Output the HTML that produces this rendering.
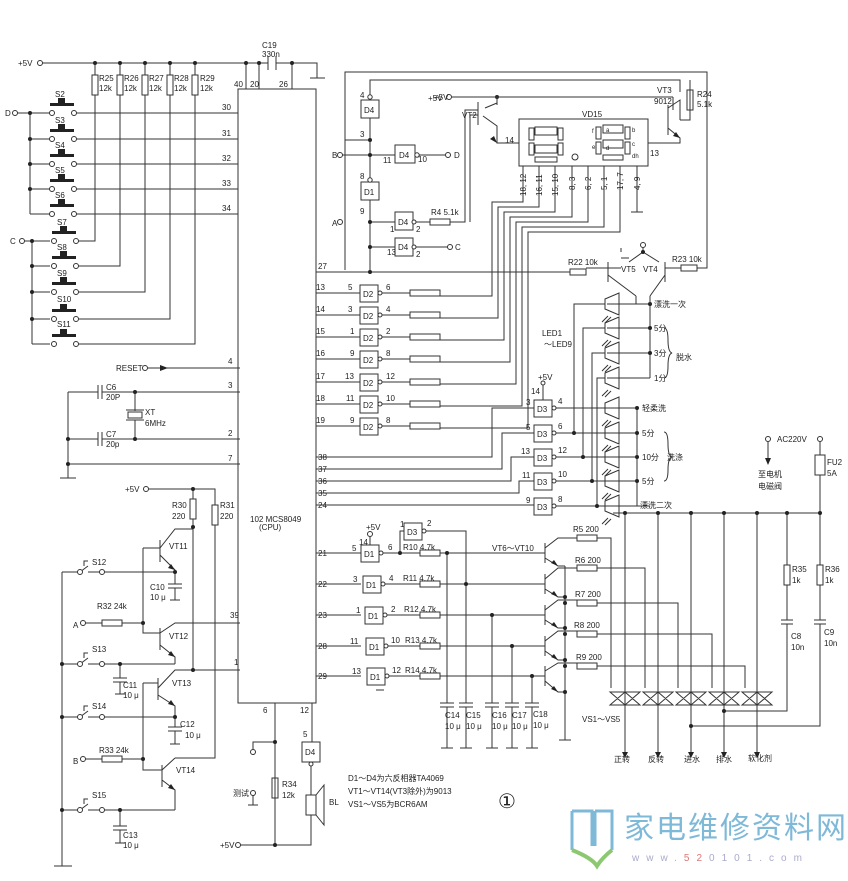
<!DOCTYPE html>
<html><head><meta charset="utf-8"><style>
html,body{margin:0;padding:0;background:#fff;}
svg{display:block;}
text{font-family:"Liberation Sans","Noto Sans CJK SC",sans-serif;font-size:8px;fill:#222;}
.c{font-size:9px;}
</style></head><body>
<svg width="848" height="881" viewBox="0 0 848 881" xmlns="http://www.w3.org/2000/svg">
<rect width="848" height="881" fill="#fff"/>
<g stroke="#333" stroke-width="1" fill="none">
<!-- CPU -->
<rect x="238" y="89" width="78" height="614" fill="#fff"/>
<!-- top rail -->
<path d="M38 63H268M276 63H317V78M310 78H325M268 56V70M276 56V70M246 63V89M259 63V89M292 63V89"/>
<!-- R25-29 -->
<path d="M95 63V75M120 63V75M145 63V75M170 63V75M195 63V75"/>
<rect x="92" y="75" width="6" height="20"/><rect x="117" y="75" width="6" height="20"/><rect x="142" y="75" width="6" height="20"/><rect x="167" y="75" width="6" height="20"/><rect x="192" y="75" width="6" height="20"/>
<path d="M95 95V241H76M120 95V266H76M145 95V292H76M170 95V319H76M195 95V344H76"/>
<!-- switch rows D -->
<path d="M14 113H50M30 113V214M30 139H50M30 164H50M30 189H50M30 214H50"/>
<path d="M76 113H238M76 139H238M76 164H238M76 189H238M76 214H238"/>
<path d="M23 241H50M32 241V344M32 266H50M32 292H50M32 319H50M32 344H50"/>
</g>
<g fill="#222">
<rect x="50" y="103" width="24" height="3"/><rect x="58" y="98" width="7" height="6"/>
<rect x="50" y="129" width="24" height="3"/><rect x="58" y="124" width="7" height="6"/>
<rect x="50" y="154" width="24" height="3"/><rect x="58" y="149" width="7" height="6"/>
<rect x="50" y="179" width="24" height="3"/><rect x="58" y="174" width="7" height="6"/>
<rect x="50" y="204" width="24" height="3"/><rect x="58" y="199" width="7" height="6"/>
<rect x="52" y="231" width="24" height="3"/><rect x="60" y="226" width="7" height="6"/>
<rect x="52" y="256" width="24" height="3"/><rect x="60" y="251" width="7" height="6"/>
<rect x="52" y="282" width="24" height="3"/><rect x="60" y="277" width="7" height="6"/>
<rect x="52" y="309" width="24" height="3"/><rect x="60" y="304" width="7" height="6"/>
<rect x="52" y="334" width="24" height="3"/><rect x="60" y="329" width="7" height="6"/>
<circle cx="95" cy="63" r="2"/><circle cx="120" cy="63" r="2"/><circle cx="145" cy="63" r="2"/><circle cx="170" cy="63" r="2"/><circle cx="195" cy="63" r="2"/><circle cx="246" cy="63" r="2"/><circle cx="259" cy="63" r="2"/><circle cx="292" cy="63" r="2"/>
<circle cx="30" cy="113" r="2"/><circle cx="30" cy="139" r="2"/><circle cx="30" cy="164" r="2"/><circle cx="30" cy="189" r="2"/>
<circle cx="32" cy="241" r="2"/><circle cx="32" cy="266" r="2"/><circle cx="32" cy="292" r="2"/><circle cx="32" cy="319" r="2"/>
</g>
<g fill="#fff" stroke="#333">
<circle cx="40" cy="63" r="2.5"/><circle cx="15" cy="113" r="2.5"/><circle cx="22" cy="241" r="2.5"/>
<circle cx="52" cy="113" r="2.5"/><circle cx="74" cy="113" r="2.5"/><circle cx="52" cy="139" r="2.5"/><circle cx="74" cy="139" r="2.5"/><circle cx="52" cy="164" r="2.5"/><circle cx="74" cy="164" r="2.5"/><circle cx="52" cy="189" r="2.5"/><circle cx="74" cy="189" r="2.5"/><circle cx="52" cy="214" r="2.5"/><circle cx="74" cy="214" r="2.5"/>
<circle cx="54" cy="241" r="2.5"/><circle cx="76" cy="241" r="2.5"/><circle cx="54" cy="266" r="2.5"/><circle cx="76" cy="266" r="2.5"/><circle cx="54" cy="292" r="2.5"/><circle cx="76" cy="292" r="2.5"/><circle cx="54" cy="319" r="2.5"/><circle cx="76" cy="319" r="2.5"/><circle cx="54" cy="344" r="2.5"/><circle cx="76" cy="344" r="2.5"/>
<circle cx="145" cy="368" r="2.5"/>
</g>
<text x="18" y="66">+5V</text><text x="262" y="48">C19</text><text x="262" y="57">330n</text>
<text x="99" y="81">R25</text><text x="99" y="91">12k</text><text x="124" y="81">R26</text><text x="124" y="91">12k</text><text x="149" y="81">R27</text><text x="149" y="91">12k</text><text x="174" y="81">R28</text><text x="174" y="91">12k</text><text x="200" y="81">R29</text><text x="200" y="91">12k</text>
<text x="234" y="87">40</text><text x="250" y="87">20</text><text x="279" y="87">26</text>
<text x="5" y="116">D</text><text x="10" y="244">C</text>
<text x="55" y="97">S2</text><text x="55" y="123">S3</text><text x="55" y="148">S4</text><text x="55" y="173">S5</text><text x="55" y="198">S6</text><text x="57" y="225">S7</text><text x="57" y="250">S8</text><text x="57" y="276">S9</text><text x="57" y="302">S10</text><text x="57" y="327">S11</text>
<text x="222" y="110">30</text><text x="222" y="136">31</text><text x="222" y="161">32</text><text x="222" y="186">33</text><text x="222" y="211">34</text>
<!-- reset, xtal -->
<g stroke="#333" fill="none">
<path d="M148 368H240M68 392H98M102 392H240M68 392V478M68 439H98M102 439H240M68 464H240M60 478H76M98 385V399M102 385V399M98 432V446M102 432V446M135 392V411M135 420V439"/>
<rect x="128" y="412" width="14" height="6"/><path d="M126 410H144M126 420H144"/>
</g>
<path d="M160 365L168 368L160 371Z" fill="#222"/>
<g fill="#222"><circle cx="135" cy="392" r="2"/><circle cx="135" cy="439" r="2"/><circle cx="68" cy="439" r="2"/><circle cx="68" cy="464" r="2"/></g>
<text x="116" y="371">RESET</text><text x="228" y="364">4</text><text x="228" y="388">3</text><text x="228" y="436">2</text><text x="228" y="461">7</text>
<text x="106" y="390">C6</text><text x="106" y="400">20P</text><text x="106" y="437">C7</text><text x="106" y="447">20p</text><text x="145" y="415">XT</text><text x="145" y="426">6MHz</text>
<text x="250" y="522">102 MCS8049</text><text x="259" y="530">(CPU)</text>
<!-- left bottom transistor area -->
<g stroke="#333" fill="none">
<path d="M148 489H215V505M193 489V499M193 519V527M215 525V758H175"/>
<rect x="190" y="499" width="6" height="20"/><rect x="212" y="505" width="6" height="20"/>
<path d="M160 540V562M160 548L175 529H193V670M160 555L175 570V572M143 548H160M143 548V633H160M160 628V650M160 633L175 623H240M160 645L175 657V664"/>
<path d="M62 572H78M88 572H175M175 572V584M168 584H182M168 588H182M175 588V600M170 600H180"/>
<path d="M85 623H102M122 623H143"/><rect x="102" y="620" width="20" height="6"/>
<path d="M62 664H78M88 664H175M120 664V678M113 678H127M113 682H127M120 682V694M115 694H125"/>
<path d="M158 678V700M158 688L175 670H240M158 695L175 706V717M143 683H158M143 683V770H162"/>
<path d="M62 717H78M88 717H175M175 717V727M168 727H182M168 731H182M175 731V744M170 744H180"/>
<path d="M85 759H102M122 759H143"/><rect x="102" y="756" width="20" height="6"/>
<path d="M162 765V787M162 770L175 758M162 780L175 790V810M62 810H78M88 810H175M120 810V826M113 826H127M113 830H127M120 830V843M115 843H125"/>
<path d="M62 572V866M54 866H72"/>
<path d="M80 572L88 566M80 664L88 658M80 717L88 711M80 810L88 804M84 566V561H88M84 658V653H88M84 711V706H88M84 804V799H88"/>
</g>
<g fill="#222"><circle cx="193" cy="489" r="2"/><circle cx="193" cy="527" r="2"/><circle cx="175" cy="572" r="2"/><circle cx="143" cy="623" r="2"/><circle cx="120" cy="664" r="2"/><circle cx="193" cy="670" r="2"/><circle cx="175" cy="717" r="2"/><circle cx="143" cy="759" r="2"/><circle cx="120" cy="810" r="2"/><circle cx="62" cy="664" r="2"/><circle cx="62" cy="717" r="2"/><circle cx="62" cy="810" r="2"/>
<path d="M175 570L168 568L171 564Z"/><path d="M175 657L168 655L171 651Z"/><path d="M175 706L168 704L171 700Z"/><path d="M175 790L168 788L171 784Z"/></g>
<g fill="#fff" stroke="#333"><circle cx="146" cy="489" r="2.5"/><circle cx="80" cy="572" r="2.5"/><circle cx="102" cy="572" r="2.5"/><circle cx="83" cy="623" r="2.5"/><circle cx="80" cy="664" r="2.5"/><circle cx="102" cy="664" r="2.5"/><circle cx="80" cy="717" r="2.5"/><circle cx="102" cy="717" r="2.5"/><circle cx="83" cy="759" r="2.5"/><circle cx="80" cy="810" r="2.5"/><circle cx="102" cy="810" r="2.5"/></g>
<text x="125" y="492">+5V</text><text x="172" y="508">R30</text><text x="172" y="519">220</text><text x="220" y="508">R31</text><text x="220" y="519">220</text>
<text x="169" y="549">VT11</text><text x="169" y="639">VT12</text><text x="172" y="686">VT13</text><text x="176" y="773">VT14</text>
<text x="92" y="565">S12</text><text x="92" y="652">S13</text><text x="92" y="709">S14</text><text x="92" y="798">S15</text>
<text x="150" y="590">C10</text><text x="150" y="600">10 μ</text><text x="123" y="688">C11</text><text x="123" y="698">10 μ</text>
<text x="180" y="727">C12</text><text x="185" y="738">10 μ</text><text x="123" y="838">C13</text><text x="123" y="848">10 μ</text>
<text x="97" y="609">R32  24k</text><text x="99" y="753">R33  24k</text><text x="73" y="628">A</text><text x="73" y="764">B</text>
<text x="230" y="618">39</text><text x="234" y="665">1</text>
<!-- bottom CPU -->
<g stroke="#333" fill="none">
<path d="M275 703V845H240M275 742H253V750M253 795V805M248 805H258M275 742V778M275 798V845M312 703V742"/>
<rect x="272" y="778" width="6" height="20"/>
<rect x="302" y="742" width="18" height="20"/>
<path d="M311 765V795M311 815V845H275"/>
<rect x="306" y="795" width="10" height="20"/><path d="M316 795L324 785V825L316 815"/>
</g>
<g fill="#222"><circle cx="275" cy="742" r="2"/><circle cx="275" cy="845" r="2"/></g>
<g fill="#fff" stroke="#333"><circle cx="253" cy="752" r="2.5"/><circle cx="253" cy="793" r="2.5"/><circle cx="238" cy="845" r="2.5"/><circle cx="311" cy="764" r="2"/></g>
<text x="263" y="713">6</text><text x="300" y="713">12</text><text x="303" y="737">5</text><text x="305" y="755">D4</text>
<text x="233" y="796">测试</text><text x="282" y="787">R34</text><text x="282" y="798">12k</text><text x="329" y="805">BL</text><text x="220" y="848">+5V</text>
<text x="348" y="781">D1～D4为六反相器TA4069</text><text x="348" y="794">VT1～VT14(VT3除外)为9013</text><text x="348" y="807">VS1～VS5为BCR6AM</text>
<text x="498" y="808" style="font-size:20px;font-family:'Liberation Serif',serif">①</text>
<!-- top right gates -->
<g stroke="#333" fill="none">
<path d="M345 270V72H707V268H697M370 95V80H680V92M370 118V140H345M370 140V180M370 200V272M338 155H395M410 155H445M370 222H395M412 222H430M450 222H465V110H478M370 247H395M412 247H448M316 272H570M586 268H608"/>
<rect x="361" y="100" width="18" height="18" fill="#fff"/><rect x="395" y="145" width="20" height="18" fill="#fff"/><rect x="361" y="182" width="18" height="18" fill="#fff"/><rect x="395" y="212" width="18" height="18" fill="#fff"/><rect x="395" y="238" width="18" height="18" fill="#fff"/>
<rect x="430" y="219" width="20" height="6"/><rect x="570" y="269" width="16" height="6"/><rect x="681" y="265" width="16" height="6"/>
</g>
<g fill="#222"><circle cx="370" cy="140" r="2"/><circle cx="370" cy="155" r="2"/><circle cx="370" cy="222" r="2"/><circle cx="370" cy="247" r="2"/><circle cx="370" cy="272" r="2"/><circle cx="497" cy="97" r="2"/></g>
<g fill="#fff" stroke="#333"><circle cx="370" cy="97" r="2.2"/><circle cx="370" cy="180" r="2.2"/><circle cx="417" cy="155" r="2.2"/><circle cx="448" cy="155" r="2.5"/><circle cx="414" cy="222" r="2"/><circle cx="414" cy="247" r="2"/><circle cx="450" cy="247" r="2.5"/><circle cx="340" cy="155" r="2.5"/><circle cx="340" cy="222" r="2.5"/><circle cx="449" cy="97" r="2.5"/></g>
<text x="364" y="113">D4</text><text x="399" y="158">D4</text><text x="364" y="195">D1</text><text x="398" y="225">D4</text><text x="398" y="250">D4</text>
<text x="360" y="98">4</text><text x="360" y="137">3</text><text x="383" y="163">11</text><text x="418" y="162">10</text><text x="454" y="158">D</text><text x="360" y="179">8</text><text x="360" y="214">9</text>
<text x="390" y="232">1</text><text x="416" y="232">2</text><text x="387" y="255">13</text><text x="416" y="257">2</text><text x="455" y="250">C</text><text x="431" y="215">R4 5.1k</text>
<text x="332" y="158">B</text><text x="332" y="226">A</text><text x="318" y="269">27</text><text x="428" y="101">+5V</text>
<!-- VT2, VT3, VD15 -->
<g stroke="#333" fill="none">
<path d="M452 97H673M497 97V105M485 108L497 103M478 102V125M478 115H470V222M483 116L497 126V143H519M673 97V110M690 88V110M690 88V80M690 110V120H680M668 108L680 100V120M668 128L680 138V143H648M668 105V135"/>
<rect x="687" y="90" width="6" height="20"/>
<rect x="519" y="119" width="129" height="47" fill="#fff"/>
<rect x="535" y="127" width="22" height="8"/><rect x="535" y="145" width="22" height="8"/><rect x="529" y="128" width="5" height="12"/><rect x="558" y="128" width="5" height="12"/><rect x="529" y="143" width="5" height="12"/><rect x="558" y="143" width="5" height="12"/><rect x="535" y="157" width="22" height="5"/><circle cx="575" cy="157" r="3"/>
<rect x="603" y="125" width="20" height="8"/><rect x="603" y="140" width="20" height="8"/><rect x="596" y="127" width="5" height="12"/><rect x="625" y="127" width="5" height="12"/><rect x="596" y="142" width="5" height="12"/><rect x="625" y="142" width="5" height="12"/><rect x="603" y="155" width="20" height="5"/>
<path d="M523 166V202H492V296H440M539 166V207H498V318H440M555 166V212H504V340H440M572 166V217H510V362H440M588 166V222H516V384H440M604 166V227H522V406H440M620 166V232H528V428H440M637 166V212M631 212H643"/>
</g>
<path d="M497 143L490 139L494 136Z M680 138L673 136L676 132Z" fill="#222"/>
<text x="434" y="100">+5V</text><text x="462" y="118">VT2</text><text x="657" y="93">VT3</text><text x="654" y="104">9012</text><text x="697" y="97">R24</text><text x="697" y="107">5.1k</text>
<text x="582" y="117">VD15</text><text x="505" y="143">14</text><text x="650" y="156">13</text>
<text x="606" y="132" style="font-size:6px">a</text><text x="632" y="132" style="font-size:6px">b</text><text x="606" y="150" style="font-size:6px">d</text><text x="632" y="146" style="font-size:6px">c</text><text x="592" y="133" style="font-size:6px">f</text><text x="592" y="149" style="font-size:6px">e</text><text x="632" y="158" style="font-size:6px">dh</text>
<g style="font-size:7px">
<text transform="translate(526,196) rotate(-90)">18, 12</text><text transform="translate(542,196) rotate(-90)">16, 11</text><text transform="translate(558,196) rotate(-90)">15, 10</text><text transform="translate(575,190) rotate(-90)">8, 3</text><text transform="translate(591,190) rotate(-90)">6, 2</text><text transform="translate(607,190) rotate(-90)">5, 1</text><text transform="translate(623,190) rotate(-90)">17, 7</text><text transform="translate(640,190) rotate(-90)">4, 9</text>
</g>
<!-- D2 gates -->
<g stroke="#333" fill="none">
<path d="M316 293H360M316 315H360M316 337H360M316 359H360M316 382H360M316 404H360M316 426H360"/>
<path d="M382 293H410M382 315H410M382 337H410M382 359H410M382 382H410M382 404H410M382 426H410"/>
<g fill="#fff"><rect x="360" y="285" width="18" height="17"/><rect x="360" y="307" width="18" height="17"/><rect x="360" y="329" width="18" height="17"/><rect x="360" y="351" width="18" height="17"/><rect x="360" y="374" width="18" height="17"/><rect x="360" y="396" width="18" height="17"/><rect x="360" y="418" width="18" height="17"/>
<circle cx="380" cy="293" r="2"/><circle cx="380" cy="315" r="2"/><circle cx="380" cy="337" r="2"/><circle cx="380" cy="359" r="2"/><circle cx="380" cy="382" r="2"/><circle cx="380" cy="404" r="2"/><circle cx="380" cy="426" r="2"/></g>
<rect x="410" y="290" width="30" height="6"/><rect x="410" y="312" width="30" height="6"/><rect x="410" y="334" width="30" height="6"/><rect x="410" y="356" width="30" height="6"/><rect x="410" y="379" width="30" height="6"/><rect x="410" y="401" width="30" height="6"/><rect x="410" y="423" width="30" height="6"/>
</g>
<text x="363" y="297">D2</text><text x="363" y="319">D2</text><text x="363" y="341">D2</text><text x="363" y="363">D2</text><text x="363" y="386">D2</text><text x="363" y="408">D2</text><text x="363" y="430">D2</text>
<text x="316" y="290">13</text><text x="316" y="312">14</text><text x="316" y="334">15</text><text x="316" y="356">16</text><text x="316" y="379">17</text><text x="316" y="401">18</text><text x="316" y="423">19</text>
<text x="348" y="290">5</text><text x="348" y="312">3</text><text x="350" y="334">1</text><text x="350" y="356">9</text><text x="345" y="379">13</text><text x="346" y="401">11</text><text x="350" y="423">9</text>
<text x="386" y="290">6</text><text x="386" y="312">4</text><text x="386" y="334">2</text><text x="386" y="356">8</text><text x="386" y="379">12</text><text x="386" y="401">10</text><text x="386" y="423">8</text>
<!-- pins 38..24 and D3 -->
<g stroke="#333" fill="none">
<path d="M316 457H492V408H534M316 469H502V433H534M316 481H511V457H534M316 493H519V481H534M316 505H534"/>
<g fill="#fff"><rect x="534" y="400" width="18" height="17"/><rect x="534" y="425" width="18" height="17"/><rect x="534" y="449" width="18" height="17"/><rect x="534" y="473" width="18" height="17"/><rect x="534" y="498" width="18" height="17"/>
<circle cx="554" cy="408" r="2"/><circle cx="554" cy="433" r="2"/><circle cx="554" cy="457" r="2"/><circle cx="554" cy="481" r="2"/><circle cx="554" cy="506" r="2"/></g>
<path d="M543 400V385M556 408H637M556 433H637M556 457H637M556 481H637M556 506H636M574 433V304H605M583 457V328H605M592 481V353H605M597 506V378H605"/>
<path d="M607 304H650M607 328H650M607 353H650M607 378H650M650 304V378"/>
<path d="M637 408V506M636 506H650"/>
<path d="M605 299L619 293V315L605 309Z M605 323L619 317V339L605 333Z M605 348L619 342V364L605 358Z M605 373L619 367V389L605 383Z M605 403L619 397V419L605 413Z M605 428L619 422V444L605 438Z M605 452L619 446V468L605 462Z M605 476L619 470V492L605 486Z M605 501L619 495V517L605 511Z"/>
<path d="M605 299V309M605 323V333M605 348V358M605 373V383M605 403V413M605 428V438M605 452V462M605 476V486M605 501V511"/>
<path d="M608 316L602 322M611 317L605 323M608 340L602 346M611 341L605 347M608 365L602 371M611 366L605 372M608 390L602 396M611 391L605 397M608 420L602 426M611 421L605 427M608 445L602 451M611 446L605 452M608 469L602 475M611 470L605 476M608 493L602 499M611 494L605 500M608 518L602 524M611 519L605 525"/>
<path d="M664 328Q668 328 668 340Q668 352 672 353Q668 354 668 366Q668 378 664 378M664 432Q668 432 668 444Q668 456 672 457Q668 458 668 470Q668 481 664 481"/>
</g>
<g fill="#222"><circle cx="574" cy="433" r="2"/><circle cx="583" cy="457" r="2"/><circle cx="592" cy="481" r="2"/><circle cx="597" cy="506" r="2"/><circle cx="650" cy="304" r="2"/><circle cx="650" cy="328" r="2"/><circle cx="650" cy="353" r="2"/><circle cx="637" cy="408" r="2"/><circle cx="637" cy="433" r="2"/><circle cx="637" cy="457" r="2"/><circle cx="637" cy="481" r="2"/></g>
<circle cx="543" cy="383" r="2" fill="#fff" stroke="#333"/>
<text x="538" y="380">+5V</text><text x="531" y="394">14</text>
<text x="537" y="412">D3</text><text x="537" y="437">D3</text><text x="537" y="461">D3</text><text x="537" y="485">D3</text><text x="537" y="510">D3</text>
<text x="526" y="405">3</text><text x="526" y="430">5</text><text x="521" y="454">13</text><text x="522" y="478">11</text><text x="526" y="503">9</text>
<text x="558" y="404">4</text><text x="558" y="429">6</text><text x="558" y="453">12</text><text x="558" y="477">10</text><text x="558" y="502">8</text>
<text x="318" y="460">38</text><text x="318" y="472">37</text><text x="318" y="484">36</text><text x="318" y="496">35</text><text x="318" y="508">24</text>
<text x="542" y="336">LED1</text><text x="544" y="347">～LED9</text>
<text x="654" y="307">漂洗一次</text><text x="654" y="331">5分</text><text x="654" y="356">3分</text><text x="654" y="381">1分</text><text x="676" y="360">脱水</text>
<text x="642" y="411">轻柔洗</text><text x="642" y="436">5分</text><text x="642" y="460">10分</text><text x="642" y="484">5分</text><text x="667" y="460">洗涤</text><text x="640" y="508">漂洗二次</text>
<!-- VT5 VT4 -->
<g stroke="#333" fill="none">
<path d="M621 252V248M643 252L629 262M643 252L659 262M621 258H629M608 262V282M608 268H621M665 262V282M665 268H681M608 275L636 296M665 275L650 296M636 296V304M650 296V304M643 252V248"/>
</g>
<circle cx="643" cy="252" r="2" fill="#222"/><circle cx="643" cy="245" r="2.5" fill="#fff" stroke="#333"/>
<text x="621" y="272">VT5</text><text x="643" y="272">VT4</text><text x="568" y="265">R22  10k</text><text x="672" y="262">R23  10k</text>
<!-- D1 gates bottom -->
<g stroke="#333" fill="none">
<path d="M316 553H361M316 584H361M316 615H361M316 646H361M316 676H361"/>
<g fill="#fff"><rect x="361" y="545" width="18" height="17"/><rect x="363" y="576" width="18" height="17"/><rect x="365" y="607" width="18" height="17"/><rect x="366" y="638" width="18" height="17"/><rect x="367" y="668" width="18" height="17"/><rect x="404" y="523" width="18" height="17"/>
<circle cx="381" cy="553" r="2"/><circle cx="383" cy="584" r="2"/><circle cx="385" cy="615" r="2"/><circle cx="386" cy="646" r="2"/><circle cx="387" cy="676" r="2"/><circle cx="424" cy="531" r="2"/></g>
<path d="M370 545V537M376 690H384M383 553H420M385 584H420M387 615H420M388 646H420M389 676H420M400 553V531H404M426 531H466V584"/>
<rect x="420" y="550" width="20" height="6"/><rect x="420" y="581" width="20" height="6"/><rect x="420" y="612" width="20" height="6"/><rect x="420" y="643" width="20" height="6"/><rect x="420" y="673" width="20" height="6"/>
<path d="M440 553H545M440 584H545M440 615H545M440 646H545M440 676H545M447 553V703M466 584V703M492 615V703M512 646V703M532 676V703"/>
<path d="M440 703H454M440 707H454M459 703H473M459 707H473M485 703H499M485 707H499M505 703H519M505 707H519M525 703H539M525 707H539M447 707V748M466 707V748M492 707V748M512 707V748M532 707V748M441 748H453M460 748H472M486 748H498M506 748H518M526 748H538"/>
<path d="M545 543V563M545 548L558 538H577M545 558L558 566H565M545 574V594M545 579L558 568H565M545 589L558 597H565M545 605V625M545 610L558 600H577M545 620L558 628H565M545 636V656M545 641L558 631H577M545 651L558 660H565M545 666V686M545 671L558 663H577M545 681L558 692H565M565 566V740M559 740H571M565 568H577"/>
<rect x="577" y="535" width="20" height="6"/><rect x="577" y="565" width="20" height="6"/><rect x="577" y="600" width="20" height="6"/><rect x="577" y="631" width="20" height="6"/><rect x="577" y="663" width="20" height="6"/>
<path d="M597 538H611V688M597 568H645V688M597 603H678V688M597 634H712V688M597 666H745V688"/>
<path d="M613 513H818M625 513V752M658 513V752M691 513V752M724 513V752M757 513V752"/>
<path d="M610 692H640L625 705ZM640 705H610L625 692ZM643 692H673L658 705ZM673 705H643L658 692ZM676 692H706L691 705ZM706 705H676L691 692ZM709 692H739L724 705ZM739 705H709L724 692ZM742 692H772L757 705ZM772 705H742L757 692Z"/>
<path d="M610 692H640M610 705H640M643 692H673M643 705H673M676 692H706M676 705H706M709 692H739M709 705H739M742 692H772M742 705H772"/>
<path d="M787 513V565M787 585V620M781 620H793M781 624H793M787 624V711H724M820 513V565M820 585V620M814 620H826M814 624H826M820 624V726H691"/>
<rect x="784" y="565" width="6" height="20"/><rect x="817" y="565" width="6" height="20"/>
<path d="M768 442V458M820 442V455M820 475V513"/><rect x="815" y="455" width="10" height="20"/>
</g>
<g fill="#222">
<circle cx="400" cy="553" r="2"/><circle cx="447" cy="553" r="2"/><circle cx="466" cy="584" r="2"/><circle cx="492" cy="615" r="2"/><circle cx="512" cy="646" r="2"/><circle cx="532" cy="676" r="2"/>
<circle cx="565" cy="597" r="2"/><circle cx="565" cy="603" r="2"/><circle cx="565" cy="628" r="2"/><circle cx="565" cy="634" r="2"/><circle cx="565" cy="660" r="2"/><circle cx="565" cy="666" r="2"/><circle cx="565" cy="692" r="2"/>
<circle cx="625" cy="513" r="2"/><circle cx="658" cy="513" r="2"/><circle cx="691" cy="513" r="2"/><circle cx="724" cy="513" r="2"/><circle cx="757" cy="513" r="2"/><circle cx="787" cy="513" r="2"/><circle cx="820" cy="513" r="2"/><circle cx="724" cy="711" r="2"/><circle cx="691" cy="726" r="2"/>
<path d="M622 752H628L625 758Z M655 752H661L658 758Z M688 752H694L691 758Z M721 752H727L724 758Z M754 752H760L757 758Z M765 458H771L768 465Z"/>
<path d="M558 566L551 563L554 560Z M558 597L551 594L554 591Z M558 628L551 625L554 622Z M558 660L551 657L554 654Z M558 692L551 689L554 686Z"/>
</g>
<g fill="#fff" stroke="#333"><circle cx="370" cy="534" r="2.5"/><circle cx="768" cy="439" r="2.5"/><circle cx="820" cy="439" r="2.5"/></g>
<text x="366" y="530">+5V</text><text x="359" y="545">14</text>
<text x="364" y="557">D1</text><text x="366" y="588">D1</text><text x="368" y="619">D1</text><text x="369" y="650">D1</text><text x="370" y="680">D1</text><text x="407" y="535">D3</text>
<text x="318" y="556">21</text><text x="318" y="587">22</text><text x="318" y="618">23</text><text x="318" y="649">28</text><text x="318" y="679">29</text>
<text x="352" y="551">5</text><text x="353" y="582">3</text><text x="356" y="613">1</text><text x="350" y="644">11</text><text x="352" y="674">13</text>
<text x="388" y="550">6</text><text x="389" y="581">4</text><text x="391" y="612">2</text><text x="391" y="643">10</text><text x="392" y="673">12</text>
<text x="400" y="527">1</text><text x="427" y="526">2</text>
<text x="403" y="550">R10 4.7k</text><text x="403" y="581">R11 4.7k</text><text x="404" y="612">R12 4.7k</text><text x="405" y="643">R13 4.7k</text><text x="405" y="673">R14 4.7k</text>
<text x="492" y="551">VT6～VT10</text>
<text x="573" y="532">R5  200</text><text x="575" y="563">R6  200</text><text x="575" y="597">R7  200</text><text x="574" y="628">R8  200</text><text x="576" y="660">R9  200</text>
<text x="445" y="718">C14</text><text x="445" y="729">10 μ</text><text x="466" y="718">C15</text><text x="466" y="729">10 μ</text><text x="492" y="718">C16</text><text x="492" y="729">10 μ</text><text x="512" y="718">C17</text><text x="512" y="729">10 μ</text><text x="533" y="717">C18</text><text x="533" y="728">10 μ</text>
<text x="582" y="722">VS1～VS5</text>
<text x="614" y="762">正转</text><text x="648" y="762">反转</text><text x="684" y="762">进水</text><text x="716" y="762">排水</text><text x="748" y="761">软化剂</text>
<text x="777" y="442">AC220V</text><text x="758" y="477">至电机</text><text x="758" y="489">电磁阀</text><text x="827" y="465">FU2</text><text x="827" y="476">5A</text>
<text x="792" y="572">R35</text><text x="792" y="583">1k</text><text x="825" y="572">R36</text><text x="825" y="583">1k</text><text x="791" y="639">C8</text><text x="791" y="650">10n</text><text x="824" y="635">C9</text><text x="824" y="646">10n</text>
<!-- logo -->
<g stroke="#7fb9d8" stroke-width="3" fill="none"><path d="M572 811V850M572 811H592V846M595 811V846M595 811H612V850"/></g>
<path d="M572 850Q592 858 597 866Q602 858 612 850" stroke="#8cc870" stroke-width="4" fill="none"/>
<text x="624" y="838" style="font-size:30px;fill:#7fb9d8;letter-spacing:2px">家电维修资料网</text>
<text x="632" y="861" style="font-size:10px;fill:#aac;letter-spacing:7px">www.<tspan style="fill:#d77">52</tspan>0101.com</text>
</svg>
</body></html>
